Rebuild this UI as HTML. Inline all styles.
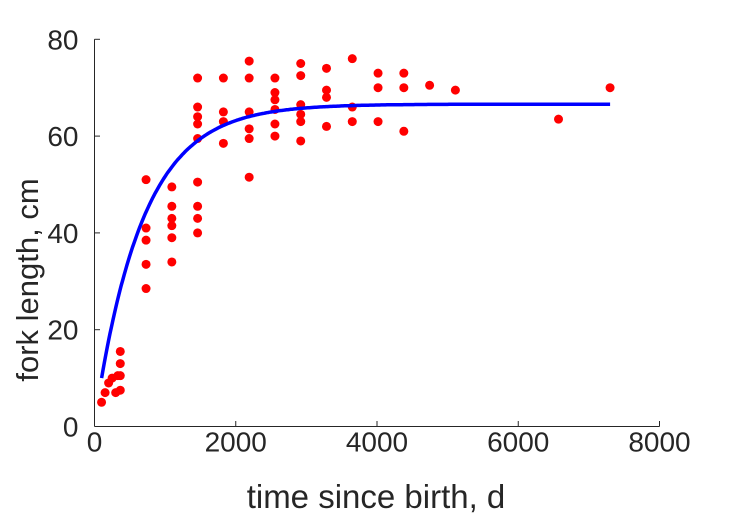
<!DOCTYPE html>
<html><head><meta charset="utf-8"><style>
body{margin:0;background:#fff;}
svg{display:block;font-family:"Liberation Sans",sans-serif;}
</style></head><body>
<svg id="c" width="729" height="521"></svg>
<script>
const ageDays=[100,150,200,250,300,330,365,365,365,365,
730,730,730,730,730,1095,1095,1095,1095,1095,1095,
1460,1460,1460,1460,1460,1460,1460,1460,1460,1825,1825,1825,1825,
2190,2190,2190,2190,2190,2190,2555,2555,2555,2555,2555,2555,
2920,2920,2920,2920,2920,2920,3285,3285,3285,3285,3650,3650,3650,
4015,4015,4015,4380,4380,4380,4745,5110,6570,7300];
const forkLength=[5,7,9,10,7,10.5,7.5,10.5,13,15.5,
51,41,38.5,33.5,28.5,49.5,45.5,43,41.5,39,34,
72,66,64,62.5,59.5,50.5,45.5,43,40,72,65,63,58.5,
75.5,72,65,61.5,59.5,51.5,72,69,67.5,65.5,62.5,60,
75,72.5,66.5,64.5,63,59,74,69.5,68,62,76,66,63,
73,70,63,73,70,61,70.5,69.5,63.5,70];
const fitParams=[66.6,0.00148,-10]; // Linf, k, t0
const xTicks=[0,2000,4000,6000,8000];
const yTicks=[0,20,40,60,80];
const svg=document.getElementById('c'),NS='http://www.w3.org/2000/svg';
const X0=94.5,X1=659.5,Y0=426.5,Y1=39.3;
const sx=v=>X0+(v/8000)*(X1-X0), sy=v=>Y0-(v/80)*(Y0-Y1);
function mk(t,a,p){const e=document.createElementNS(NS,t);for(const k in a)e.setAttribute(k,a[k]);(p||svg).appendChild(e);return e;}
const ax=mk('g',{});


const xl=mk('line',{x1:X0,y1:Y0,x2:X1,y2:Y0,stroke:'#262626','stroke-width':1},ax);


const yl=mk('line',{x1:X0,y1:Y0,x2:X0,y2:Y1,stroke:'#262626','stroke-width':1},ax);


xTicks.forEach(v=>{const x=sx(v);
 mk('line',{x1:x,y1:Y0,x2:x,y2:Y0-5.5,stroke:'#262626'},ax);
 const t=mk('text',{x:x,y:Y0+25,'text-anchor':'middle','font-size':28,fill:'#262626'},ax);t.textContent=v;
 
 });
yTicks.forEach(v=>{const y=sy(v);
 mk('line',{x1:X0,y1:y,x2:X0+5.5,y2:y,stroke:'#262626'},ax);
 const t=mk('text',{x:X0-16,y:y+10,'text-anchor':'end','font-size':28,fill:'#262626'},ax);t.textContent=v;
 
 });
const xt=mk('text',{x:376,y:508,'text-anchor':'middle','font-size':33,fill:'#262626'});xt.textContent='time since birth, d';


const yt=mk('text',{x:0,y:0,transform:'translate(38,280) rotate(-90)','text-anchor':'middle','font-size':31,fill:'#262626'});yt.textContent='fork length, cm';


const pts=mk('g',{});


ageDays.forEach((a,i)=>{const c=mk('circle',{cx:sx(a),cy:sy(forkLength[i]),r:4.5,fill:'#ff0000'},pts);
 
 });
let d='';for(let t=100;t<=7300;t+=20){const L=fitParams[0]*(1-Math.exp(-fitParams[1]*(t-fitParams[2])));d+=(d?'L':'M')+sx(t).toFixed(1)+','+sy(L).toFixed(1);}
const fl=mk('path',{d:d,fill:'none',stroke:'#0000ff','stroke-width':3.5});


</script>
</body></html>
